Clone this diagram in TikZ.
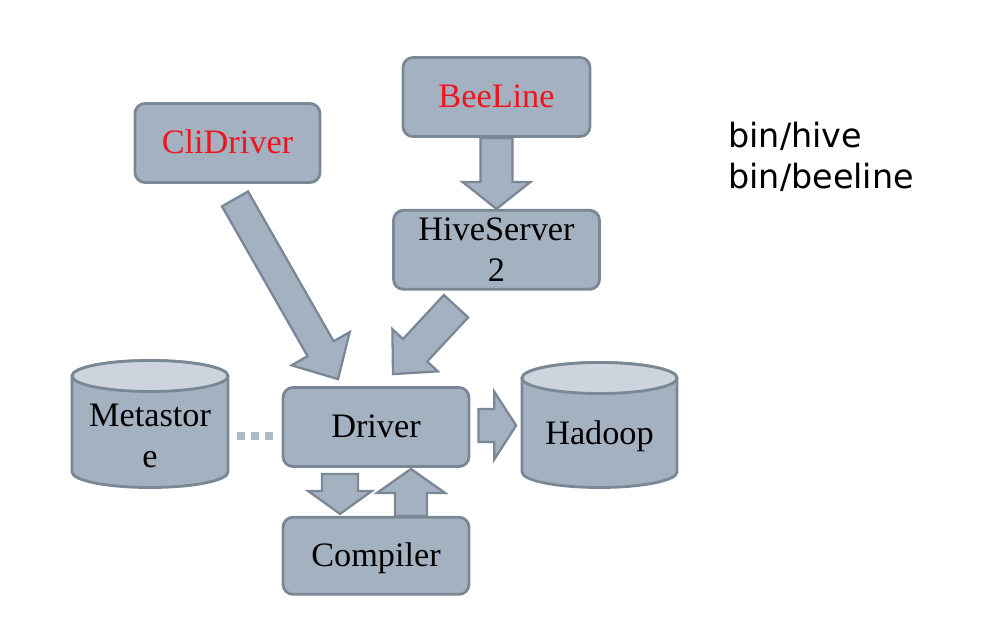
\documentclass[tikz,border=0pt]{standalone}
\usepackage{fontspec}
\setmainfont{Liberation Serif}
\newfontfamily\notefont{DejaVu Sans}
\usetikzlibrary{calc,positioning}

\definecolor{slate}{RGB}{164,177,193}
\definecolor{slateedge}{RGB}{122,135,148}
\definecolor{slatetop}{RGB}{205,212,221}
\definecolor{slatedot}{RGB}{172,185,199}
\definecolor{cmdred}{RGB}{240,20,30}

\newcommand{\fatarrow}[5]{%
\coordinate (fa-a) at (#1);
\coordinate (fa-b) at (#2);
\coordinate (fa-h) at ($(fa-b)!#5!(fa-a)$);
\filldraw[fat] ($(fa-a)!#3!90:(fa-b)$) -- ($(fa-h)!#3!90:(fa-b)$) -- ($(fa-h)!#4!90:(fa-b)$) -- (fa-b)
-- ($(fa-h)!#4!-90:(fa-b)$) -- ($(fa-h)!#3!-90:(fa-b)$) -- ($(fa-a)!#3!-90:(fa-b)$) -- cycle;
}
\newcommand{\drum}[5]{%
\filldraw[drumbody] ($(#1,#2)+(-#4,0)$) -- ($(#1,#3)+(-#4,0)$) arc[start angle=180, end angle=360, x radius=#4, y radius=#5]
-- ($(#1,#2)+(#4,0)$) arc[start angle=0, end angle=180, x radius=#4, y radius=#5] -- cycle;
\filldraw[drumtop] (#1,#2) ellipse[x radius=#4, y radius=#5];
}

\begin{document}
\begin{tikzpicture}[x=0.2mm, y=-0.2mm,
box/.style = {fill = slate, draw = slateedge, line width = 1.6pt, shape = rectangle, rounded corners = 2mm, minimum height = 1.58cm, text = black, font = \fontsize{19.5}{23.6}\selectfont},
onel/.style = {text height = 1.45em, text depth = 0.25em},
cmd/.style = {text = cmdred},
fat/.style = {fill = slate, draw = slateedge, line width = 1.3pt, line join = miter},
drumbody/.style = {fill = slate, draw = slateedge, line width = 1.6pt},
drumtop/.style = {fill = slatetop, draw = slateedge, line width = 1.6pt},
dbtext/.style = {inner sep = 0pt, minimum width = 31.2mm, text = black, font = \fontsize{19.5}{23.6}\selectfont},
note/.style = {inner sep = 0pt, align = left, font = \notefont\fontsize{19}{23.3}\selectfont}]
\useasboundingbox (0,0) rectangle (984,620);

\node[box, onel, cmd, minimum width = 3.7cm] (cli) at (227.5,143) {CliDriver};
\node[box, onel, cmd, minimum width = 3.74cm] (bee) at (496.5,97) {BeeLine};
\node[box, align = center, minimum width = 4.12cm, below = 14.2mm of bee] (hs2) {HiveServer\\2};
\node[box, onel, minimum width = 3.72cm] (driver) at (376,427) {Driver};
\node[box, onel, minimum width = 3.72cm, minimum height = 1.54cm, below = 9.6mm of driver] (comp) {Compiler};

\drum{150}{376}{472}{15.6mm}{3.1mm}
\drum{599.5}{378}{472}{15.5mm}{3.1mm}
\node[dbtext, align = center] (meta) at (150,436) {Metastor\\e};
\node[dbtext, onel] (hadoop) at (599.5,433.5) {Hadoop};

\node[note, anchor = north west] (cmds) at (728,122) {bin/hive\\bin/beeline};

\fatarrow{bee.south}{hs2.north}{3.2mm}{6.8mm}{5.4mm}
\fatarrow{[shift={(7.5,15)}]cli.south}{[shift={(-38,-7)}]driver.north}{3mm}{6.7mm}{7mm}
\fatarrow{[shift={(-40.5,15.5)}]hs2.south}{[shift={(17,-12)}]driver.north}{3.3mm}{6.2mm}{6.5mm}
\fatarrow{[shift={(-36,6)}]driver.south}{[shift={(-36,-2)}]comp.north}{3.6mm}{6.4mm}{4.6mm}
\fatarrow{[xshift = 7mm]comp.north}{[shift={(35,1)}]driver.south}{3.2mm}{6.8mm}{4.8mm}
\fatarrow{[shift={(8,-1.5)}]driver.east}{[shift={(-5,-8)}]hadoop.west}{3.3mm}{6.8mm}{4.4mm}

\draw[slatedot, line width = 1.6mm, dash pattern = on 1.6mm off 1.2mm, shorten < = 1.8mm, shorten > = 1.2mm] (meta.east) -- (meta.east -| driver.west);
\end{tikzpicture}
\end{document}
